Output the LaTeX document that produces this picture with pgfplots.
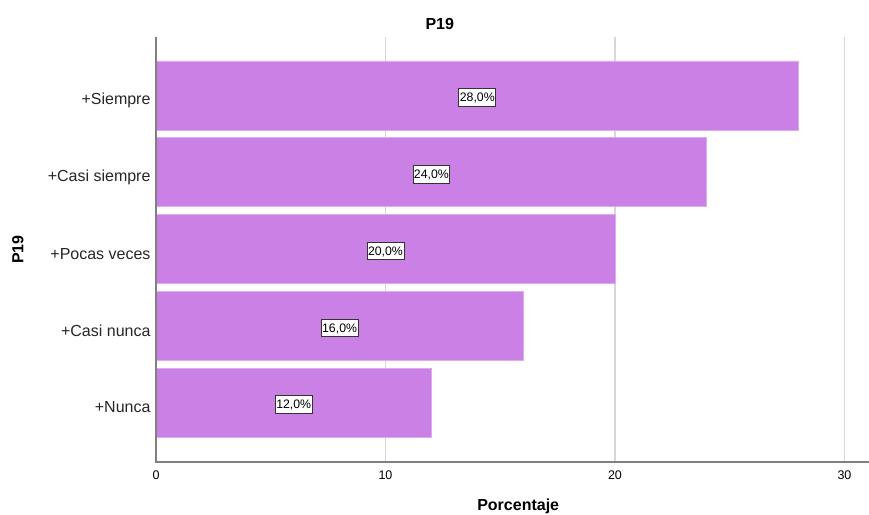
\documentclass[border=0pt]{standalone}
\usepackage{fontspec}
\setmainfont{Liberation Sans}
\usepackage{pgfplots}
\pgfplotsset{compat=1.18}
\definecolor{barcol}{RGB}{203,128,229}
\definecolor{baredge}{RGB}{222,170,240}
\definecolor{axcol}{RGB}{128,128,128}
\definecolor{gridcol}{RGB}{215,215,215}
\begin{document}
\begin{tikzpicture}
\useasboundingbox (0,0) rectangle (869bp,515bp);
\begin{axis}[
  at={(156bp,53bp)}, anchor=south west,
  width=713bp, height=425bp, scale only axis,
  xmin=0, xmax=31.07, ymin=-0.775, ymax=4.762,
  clip=false,
  axis line style={draw=none},
  /pgf/number format/assume math mode=true,
  xbar, bar width=69bp,
  xtick={0,10,20,30},
  ytick={0,1,2,3,4},
  yticklabels={+Nunca,+Casi nunca,+Pocas veces,+Casi siempre,+Siempre},
  major tick length=0pt,
  xmajorgrids,
  grid style={gridcol, line width=1.3bp},
  xticklabel style={font=\fontsize{12.5bp}{14bp}\selectfont, yshift=-5bp},
  yticklabel style={font=\fontsize{16bp}{19bp}\selectfont, text=black!85, yshift=-5bp, xshift=-2bp},
  title={\textbf{P19}},
  title style={font=\fontsize{16bp}{19bp}\selectfont, at={(rel axis cs:0.398,1.0188)}, anchor=base, yshift=-6pt},
  xlabel={\textbf{Porcentaje}},
  xlabel style={font=\fontsize{16bp}{19bp}\selectfont, at={(rel axis cs:0.508,-0.1146)}, anchor=base},
  ylabel={\textbf{P19}},
  ylabel style={font=\fontsize{16bp}{19bp}\selectfont, at={(rel axis cs:-0.186,0.5)}, anchor=base, rotate=0},
  visualization depends on={rawx \as \rawx},
  nodes near coords={\pgfmathprintnumber[fixed,fixed zerofill,precision=1,use comma]{\pgfplotspointmeta}\%},
  point meta=x,
  nodes near coords style={font=\fontsize{12.3bp}{14bp}\selectfont, anchor=center,
    shift={(axis direction cs:-\rawx/2,0)}, yshift=-2bp, fill=white, draw=black!80, line width=0.8bp,
    inner xsep=1bp, inner ysep=0bp, minimum height=17.5bp, text depth=0pt},
]
\addplot[fill=barcol, draw=baredge, line width=0.6bp] coordinates {
  (12,0) (16,1) (20,2) (24,3) (28,4)
};
\draw[axcol, line width=1.3bp] (rel axis cs:0,1) -- (rel axis cs:0,0) -- (rel axis cs:1,0);
\end{axis}
\end{tikzpicture}
\end{document}
